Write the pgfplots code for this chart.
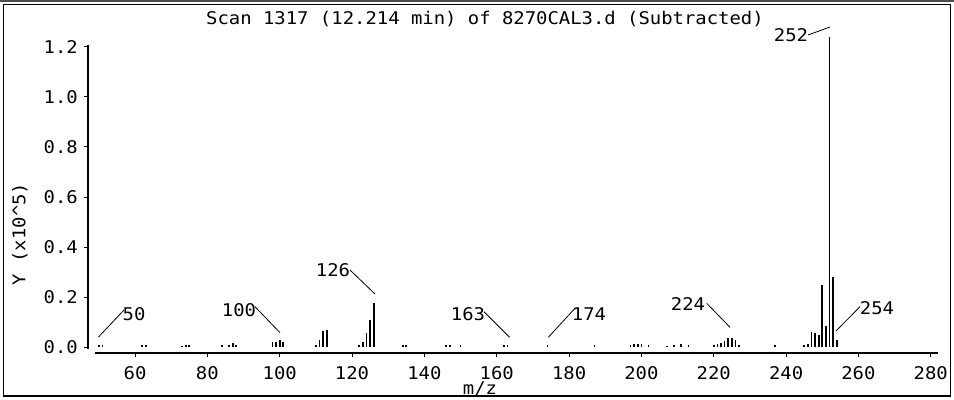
\documentclass[border=0pt]{standalone}
\usepackage{fontspec}
\setmainfont[FakeStretch=1.08]{DejaVu Sans Mono}
\usepackage{pgfplots}
\pgfplotsset{compat=1.18}
\begin{document}
\begin{tikzpicture}[x=1bp,y=1bp,font=\fontsize{17.5bp}{19bp}\selectfont]
\useasboundingbox (0,0) rectangle (954,399);
\begin{axis}[
  at={(88bp,46bp)}, anchor=south west,
  x=3.617bp, y=250bp,
  xmin=47, xmax=282, ymin=-0.024, ymax=1.26,
  axis x line*=bottom, axis y line*=left,
  axis line style={draw=none},
  xtick={60,80,...,280},
  ytick={0,0.2,0.4,0.6,0.8,1.0,1.2},
  tick align=outside, major tick length=4bp,
  tick style={black, line width=1bp},
  /pgf/number format/assume math mode=true,
  xticklabel style={anchor=north, inner sep=0pt, yshift=-9.5bp},
  yticklabel style={anchor=east, inner sep=0pt, xshift=-6bp,
    /pgf/number format/fixed, /pgf/number format/fixed zerofill,
    /pgf/number format/precision=1},
  scaled y ticks=false,
  clip=false,
]
\addplot[ycomb, black, line width=1.7bp, mark=none] coordinates {
(50,0.010) (51,0.010) (62,0.010) (63,0.010) (73,0.006) (74,0.010) (75,0.010)
(84,0.008) (86,0.010) (87,0.016) (88,0.008)
(98,0.020) (99,0.022) (100,0.028) (101,0.022)
(110,0.008) (111,0.030) (112,0.065) (113,0.068)
(122,0.008) (123,0.021) (124,0.055) (125,0.108) (126,0.175)
(134,0.008) (135,0.008) (146,0.010) (147,0.010) (150,0.008)
(162,0.008) (163,0.008) (174,0.008) (187,0.008)
(197,0.010) (198,0.012) (199,0.014) (200,0.012) (202,0.010)
(207,0.006) (209,0.008) (211,0.012) (213,0.008)
(220,0.008) (221,0.012) (222,0.018) (223,0.025) (224,0.038) (225,0.035) (226,0.030) (227,0.010)
(237,0.010)
(245,0.008) (246,0.012) (247,0.060) (248,0.055) (249,0.050) (250,0.248) (251,0.084) (252,1.240) (253,0.280) (254,0.030)
};
\draw[line width=2bp] (axis cs:48.9,-0.024) -- (axis cs:282,-0.024);
\draw[line width=1.5bp] (axis cs:47,-0.008) -- (axis cs:47,1.208);
\end{axis}
% frame
\draw[line width=1.5bp] (3.5,3) rectangle (950.5,394.5);
\draw[line width=1.5bp, black!70] (0,398) -- (954,398);
% texts
\node[anchor=base, inner sep=0pt] at (485,375) {Scan 1317 (12.214 min) of 8270CAL3.d (Subtracted)};
\node[rotate=90, inner sep=0pt] at (20,165) {Y (x10\textasciicircum5)};
\node[inner sep=0pt] at (480,10) {m/z};
% peak labels
\begin{scope}[every node/.style={anchor=base, inner sep=0pt}, line width=0.8bp]
\node at (134,78.3) {50};   \draw (98.5,62) -- (124,89);
\node at (239,82.3) {100};  \draw (255,92.3) -- (280,66.3);
\node at (333,122.3) {126}; \draw (350,129) -- (375,105);
\node at (468,78.3) {163};  \draw (484,87.3) -- (509.5,61.7);
\node at (589,78.3) {174};  \draw (548.3,61.7) -- (575,90.7);
\node at (688,88.3) {224};  \draw (706.7,95.7) -- (730,71.7);
\node at (877,85) {254};    \draw (836,68) -- (860,92.3);
\node at (791,358) {252};   \draw (808,364) -- (830,372);
\end{scope}
\end{tikzpicture}
\end{document}
